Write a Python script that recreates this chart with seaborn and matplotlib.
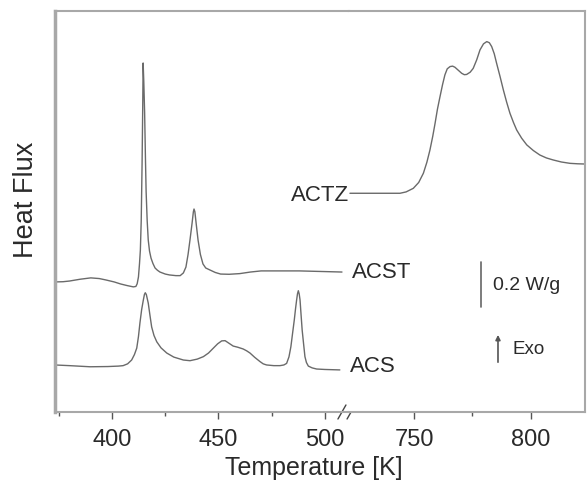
import numpy as np
import pandas as pd
import matplotlib
matplotlib.use("Agg")
import matplotlib.pyplot as plt
import seaborn as sns

# DSC curves (heat flux in W/g, curves offset vertically)

acst_T = [373.2, 377, 380, 385, 390, 394, 397, 401, 404, 407, 410, 411.2, 411.8, 412.4, 412.9,
          413.3, 413.7, 414.1, 414.4, 414.6, 414.9, 415.3, 415.7, 416, 416.5, 417, 417.6,
          418.3, 419.2, 420.2, 421.3, 422.5, 425, 427, 430, 432, 433.5, 434.7, 435.7, 436.6,
          437.6, 438.2, 438.5, 438.9, 439.6, 440.4, 441.5, 442.7, 444, 446, 448.5, 451, 455,
          460, 465, 470, 480, 488, 500, 508]
acst_Y = [0.578, 0.579, 0.582, 0.590, 0.596, 0.593, 0.587, 0.578, 0.569, 0.562, 0.556, 0.558,
          0.570, 0.600, 0.660, 0.720, 0.850, 1.100, 1.350, 1.551, 1.470, 1.330, 1.120, 0.980,
          0.850, 0.764, 0.715, 0.684, 0.660, 0.640, 0.630, 0.622, 0.613, 0.609, 0.606, 0.606,
          0.618, 0.644, 0.700, 0.764, 0.840, 0.890, 0.902, 0.890, 0.830, 0.764, 0.700, 0.658,
          0.640, 0.631, 0.620, 0.613, 0.612, 0.615, 0.622, 0.627, 0.627, 0.627, 0.624, 0.622]

acs_T = [373.2, 380, 389.7, 398, 403, 405.2, 407.3, 409.2, 410.5, 411.6, 412.4, 413.1, 413.9,
         414.7, 415.2, 415.6, 416.1, 417.0, 417.8, 418.6, 419.7, 421.0, 423, 425.7, 429, 433.5,
         436.6, 440, 442.9, 445.3, 447.6, 449.6, 451.5, 453.1, 455, 456.9, 459, 461.6, 463.2,
         464.8, 467, 469.5, 471, 472.6, 476, 478.9, 480.7, 482.0, 483.1, 484.0, 484.8, 485.6,
         486.2, 486.7, 487.1, 487.5, 487.9, 488.3, 488.8, 489.3, 490.0, 490.6, 491.3, 492.2,
         494, 496.1, 500, 507.0]
acs_Y = [0.209, 0.206, 0.201, 0.202, 0.204, 0.206, 0.214, 0.231, 0.255, 0.284, 0.335, 0.396,
         0.455, 0.498, 0.522, 0.530, 0.522, 0.484, 0.430, 0.378, 0.340, 0.312, 0.285, 0.262,
         0.244, 0.231, 0.228, 0.235, 0.246, 0.262, 0.284, 0.303, 0.316, 0.317, 0.305, 0.293,
         0.288, 0.280, 0.272, 0.262, 0.243, 0.224, 0.214, 0.209, 0.206, 0.206, 0.209, 0.216,
         0.245, 0.290, 0.350, 0.409, 0.460, 0.498, 0.525, 0.539, 0.525, 0.498, 0.430, 0.364,
         0.300, 0.246, 0.220, 0.204, 0.196, 0.191, 0.189, 0.187]

actz_T = [722.6, 744.0, 746.6, 749.7, 752, 754.0, 755.5, 756.8, 758, 759.0, 760, 761.1, 762.2,
          763.2, 764.2, 765.4, 766.5, 767.5, 769, 770.4, 771.5, 772.5, 774, 775.3, 776.8, 778.2,
          779.7, 781.1, 782.2, 783.2, 784.3, 785.3, 786.8, 788.2, 789.6, 791.0, 792.5, 793.9,
          796, 798.2, 801, 803.8, 806.6, 809.5, 813, 816.7, 820, 823.1]
actz_Y = [0.972, 0.972, 0.978, 0.994, 1.020, 1.061, 1.110, 1.164, 1.225, 1.283, 1.345, 1.401,
          1.455, 1.498, 1.525, 1.535, 1.537, 1.532, 1.518, 1.505, 1.499, 1.500, 1.510, 1.527,
          1.565, 1.609, 1.636, 1.646, 1.641, 1.624, 1.592, 1.550, 1.490, 1.431, 1.377, 1.328,
          1.287, 1.253, 1.217, 1.187, 1.162, 1.142, 1.129, 1.120, 1.111, 1.105, 1.103, 1.102]

left_ticks = [400, 450, 500]
left_minor = [375, 425, 475]
right_ticks = [750, 800]
right_minor = [775]

sns.set_style("white")
plt.rcParams['font.family'] = ['Liberation Sans', 'DejaVu Sans']

line_col = '#6a6a6a'
spine_col = '#a8a8a8'
text_col = '#2a2a2a'

fig = plt.figure(figsize=(5.88, 4.97), dpi=100)
ax1 = fig.add_axes([55/588, 85/497, 294/588, 401/497])
ax2 = fig.add_axes([349/588, 85/497, 236/588, 401/497])

sns.lineplot(x=acst_T, y=acst_Y, ax=ax1, color=line_col, lw=1.0, sort=False, estimator=None)
sns.lineplot(x=acs_T, y=acs_Y, ax=ax1, color=line_col, lw=1.0, sort=False, estimator=None)
sns.lineplot(x=actz_T, y=actz_Y, ax=ax2, color=line_col, lw=1.0, sort=False, estimator=None)

ax1.set_xlim(373.2, 511.3)
ax2.set_xlim(722.2, 823.1)
for ax in (ax1, ax2):
    ax.set_ylim(0, 1.782)
    ax.set_yticks([])
    ax.set_xlabel("")
    ax.set_ylabel("")
    for s in ax.spines.values():
        s.set_color(spine_col)
        s.set_linewidth(1.5)
    ax.tick_params(axis='x', which='major', direction='out', length=5, width=1,
                   color='#555555', labelsize=17, labelcolor=text_col, pad=7, bottom=True)
    ax.tick_params(axis='x', which='minor', direction='out', length=3, width=1,
                   color='#555555', bottom=True)

ax1.spines['right'].set_visible(False)
ax2.spines['left'].set_visible(False)
ax1.spines['left'].set_linewidth(2.5)
ax1.set_xticks(left_ticks)
ax1.set_xticks(left_minor, minor=True)
ax2.set_xticks(right_ticks)
ax2.set_xticks(right_minor, minor=True)

# break marks on the x axis
for xc in (0.976, 1.007):
    ax1.plot([xc - 0.0136, xc + 0.0136], [-0.0175, 0.0175], transform=ax1.transAxes,
             color='#444444', lw=1, clip_on=False)

# curve labels
ax2.text(723.5, 0.622, "ACST", fontsize=16, color=text_col, va='center', ha='left')
ax2.text(722.6, 0.200, "ACS", fontsize=16, color=text_col, va='center', ha='left')
ax2.text(722.4, 0.964, "ACTZ", fontsize=16, color=text_col, va='center', ha='right',
         clip_on=False)

# scale bar and exo arrow
ax2.plot([778.6, 778.6], [0.467, 0.667], color='#666666', lw=1.2)
ax2.text(783.8, 0.564, "0.2 W/g", fontsize=14, color=text_col, va='center', ha='left')
ax2.annotate("", xy=(785.9, 0.355), xytext=(785.9, 0.209),
             arrowprops=dict(arrowstyle='-|>', color='#555555', lw=1.2, mutation_scale=7))
ax2.text(792.3, 0.276, "Exo", fontsize=13.5, color=text_col, va='center', ha='left')

fig.text(314/588, 1 - 468/497, "Temperature [K]", fontsize=18, color=text_col,
         ha='center', va='center')
fig.text(26/588, 1 - 200/497, "Heat Flux", fontsize=19.5, color=text_col,
         ha='center', va='center', rotation=90)

fig.savefig("out.png", dpi=100)
